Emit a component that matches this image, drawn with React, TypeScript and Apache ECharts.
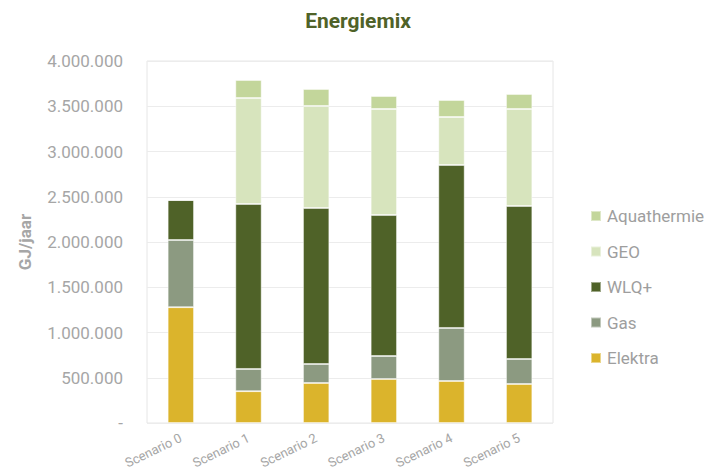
import React, { useEffect, useRef } from "react";
import * as echarts from "echarts";

const categories = ["Scenario 0", "Scenario 1", "Scenario 2", "Scenario 3", "Scenario 4", "Scenario 5"];
const elektra = [1280000, 352000, 442000, 486000, 464000, 431000];
const gas = [742000, 245000, 210000, 254000, 586000, 276000];
const wlq = [442000, 1823000, 1724000, 1558000, 1801000, 1691000];
const geo = [0, 1170000, 1127000, 1172000, 530000, 1072000];
const aqua = [0, 200000, 188000, 143000, 188000, 166000];
const yTicks = { min: 0, max: 4000000, interval: 500000 };

const fmt = (v: number) => (v === 0 ? "-" : String(v).replace(/\B(?=(\d{3})+(?!\d))/g, "."));

export default function App() {
  const ref = useRef<HTMLDivElement>(null);
  useEffect(() => {
    if (!ref.current) return;
    const chart = echarts.init(ref.current, undefined, { renderer: "svg" });
    const mk = (name: string, data: number[], color: string) => ({
      name,
      type: "bar",
      stack: "total",
      data,
      barWidth: "39%",
      itemStyle: { color, borderColor: "rgba(255,255,255,0.45)", borderWidth: 1 },
    });
    chart.setOption({
      animation: false,
      textStyle: { fontFamily: "Roboto" },
      title: {
        text: "Energiemix",
        left: 353,
        textAlign: "center",
        top: 5,
        textStyle: { color: "#4F6228", fontSize: 21, fontWeight: "bold", fontFamily: "Roboto" },
      },
      legend: {
        orient: "vertical",
        left: 585,
        top: 202,
        itemGap: 17.5,
        itemWidth: 10,
        itemHeight: 10,
        icon: "rect",
        data: ["Aquathermie", "GEO", "WLQ+", "Gas", "Elektra"],
        textStyle: { color: "#9e9e9e", fontSize: 17, lineHeight: 18, padding: [0, 0, 0, 1] },
      },
      grid: { left: 147, right: 151, top: 61, bottom: 49, show: true, borderColor: "#e6e6e6", borderWidth: 1 },
      xAxis: {
        type: "category",
        data: categories,
        axisLine: { show: false },
        axisTick: { show: false },
        axisLabel: { rotate: 26, color: "#a6a6a6", fontSize: 13, margin: 14 },
      },
      yAxis: {
        type: "value",
        min: yTicks.min,
        max: yTicks.max,
        interval: yTicks.interval,
        name: "GJ/jaar",
        nameLocation: "middle",
        nameGap: 114,
        nameTextStyle: { color: "#a6a6a6", fontSize: 17, fontWeight: "bold" },
        axisLine: { show: false },
        axisTick: { show: false },
        splitLine: { lineStyle: { color: "#ececec" } },
        axisLabel: { color: "#a6a6a6", fontSize: 17, margin: 24, formatter: fmt },
      },
      series: [
        mk("Elektra", elektra, "#DBB42C"),
        mk("Gas", gas, "#8C9A81"),
        mk("WLQ+", wlq, "#4F6228"),
        mk("GEO", geo, "#D7E4BD"),
        mk("Aquathermie", aqua, "#C3D69B"),
      ],
    });
    return () => chart.dispose();
  }, []);
  return <div ref={ref} style={{ width: 704, height: 472, position: "absolute", left: 0, top: 0 }} />;
}
